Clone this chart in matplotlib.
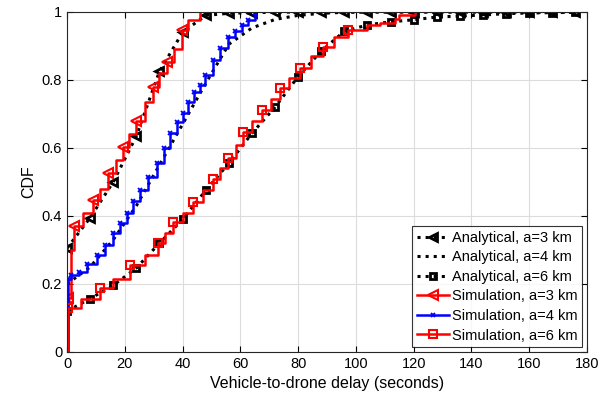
import matplotlib
matplotlib.use("Agg")
import matplotlib.pyplot as plt
import numpy as np

plt.rcParams['font.family'] = ['Liberation Sans', 'DejaVu Sans']

# Analytical CDFs, evaluated every 8 seconds
t_ana = [0, 8, 16, 24, 32, 40, 48, 56, 64, 72, 80, 88, 96, 104, 112, 120,
         128, 136, 144, 152, 160, 168, 176]
cdf_ana_3 = [0.305, 0.395, 0.50, 0.635, 0.825, 0.94, 0.99, 0.996, 0.998, 0.999, 1.0, 1.0,
             1.0, 1.0, 1.0, 1.0, 1.0, 1.0, 1.0, 1.0, 1.0, 1.0, 1.0]
cdf_ana_4 = [0.20, 0.25, 0.33, 0.43, 0.55, 0.67, 0.79, 0.905, 0.953, 0.978, 0.99, 0.996,
             0.999, 1.0, 1.0, 1.0, 1.0, 1.0, 1.0, 1.0, 1.0, 1.0, 1.0]
cdf_ana_6 = [0.12, 0.157, 0.196, 0.247, 0.32, 0.39, 0.475, 0.555, 0.643, 0.72, 0.81, 0.885,
             0.943, 0.962, 0.971, 0.977, 0.985, 0.988, 0.991, 0.995, 0.997, 0.998, 0.999]

# Empirical CDFs from simulation
t_sim_3 = [0.0, 0.3, 1.5, 2.5, 5.5, 9.0, 11.5, 14.3, 17.0, 19.4, 21.5, 24.0, 27.0, 29.9,
           32.0, 34.5, 37.0, 39.7, 42.0, 46.0]
cdf_sim_3 = [0.0, 0.16, 0.30, 0.37, 0.41, 0.447, 0.48, 0.526, 0.565, 0.603, 0.64, 0.68,
             0.735, 0.78, 0.82, 0.854, 0.89, 0.947, 0.975, 1.0]

t_sim_4 = [0.0, 0.5, 1.5, 4.0, 7.0, 10.3, 13.0, 16.0, 18.5, 20.7, 23.0, 25.3, 28.0, 31.0,
           33.5, 35.7, 38.0, 40.0, 42.0, 44.0, 46.0, 47.8, 50.6, 53.0, 55.7, 58.0, 60.5,
           62.5, 65.0]
cdf_sim_4 = [0.0, 0.215, 0.225, 0.235, 0.26, 0.285, 0.315, 0.35, 0.38, 0.41, 0.445, 0.476,
             0.515, 0.555, 0.60, 0.644, 0.675, 0.703, 0.735, 0.765, 0.785, 0.815, 0.859,
             0.895, 0.927, 0.945, 0.962, 0.975, 0.996]

t_sim_6 = [0.0, 0.5, 5.0, 11.4, 16.0, 21.8, 27.0, 31.5, 34.0, 36.7, 40.0, 43.6, 47.0, 50.6,
           53.0, 55.7, 58.5, 61.0, 64.0, 67.4, 70.5, 73.7, 77.0, 80.6, 84.5, 88.6, 92.5,
           97.3, 104.0, 108.5, 113.5, 115.0, 120.5]
cdf_sim_6 = [0.0, 0.13, 0.155, 0.188, 0.215, 0.256, 0.285, 0.32, 0.35, 0.383, 0.41, 0.44,
             0.475, 0.51, 0.54, 0.57, 0.61, 0.647, 0.68, 0.712, 0.745, 0.776, 0.805, 0.835,
             0.87, 0.898, 0.925, 0.947, 0.962, 0.967, 0.98, 0.99, 1.0]

fig = plt.figure(figsize=(6.11, 4.03), dpi=100)
ax = fig.add_axes([0.1097, 0.1266, 0.851, 0.8437])

ax.plot(t_ana, cdf_ana_3, 'k:', lw=2.2, marker='<', ms=6, mfc='none', mew=2,
        label='Analytical, a=3 km')
ax.plot(t_ana, cdf_ana_4, 'k:', lw=2.2, label='Analytical, a=4 km')
ax.plot(t_ana, cdf_ana_6, 'k:', lw=2.2, marker='s', ms=5, mfc='none', mew=2,
        label='Analytical, a=6 km')
ax.plot(t_sim_3, cdf_sim_3, color='r', lw=1.8, drawstyle='steps-post', marker='<', ms=6.5,
        mfc='none', mew=1.5, markevery=slice(1, -1, 2), label='Simulation, a=3 km')
ax.plot(t_sim_4, cdf_sim_4, color='b', lw=1.8, drawstyle='steps-post', marker='x', ms=3.5,
        mew=1.3, markevery=slice(1, None, 1), label='Simulation, a=4 km')
ax.plot(t_sim_6, cdf_sim_6, color='r', lw=1.8, drawstyle='steps-post', marker='s', ms=5.5,
        mfc='none', mew=1.5, markevery=slice(1, 28, 2), label='Simulation, a=6 km')

ax.set_xlim(0, 180)
ax.set_ylim(0, 1)
ax.set_xticks(np.arange(0, 181, 20))
ax.set_yticks([0, 0.2, 0.4, 0.6, 0.8, 1])
ax.set_yticklabels(['0', '0.2', '0.4', '0.6', '0.8', '1'])
ax.grid(True, color='#dcdcdc', lw=0.8)
ax.set_axisbelow(True)
ax.tick_params(direction='in', length=4, labelsize=10.5, top=True, right=True)
for s in ax.spines.values():
    s.set_linewidth(0.8)
    s.set_color('#262626')

ax.set_xlabel('Vehicle-to-drone delay (seconds)', fontsize=11.5)
ax.set_ylabel('CDF', fontsize=11.5)

leg = ax.legend(loc='lower right', bbox_to_anchor=(0.99, 0.015), fontsize=10.5,
                frameon=True, fancybox=False, edgecolor='k', handlelength=2.2,
                handletextpad=0.2, labelspacing=0.38, borderpad=0.3, borderaxespad=0)
leg.get_frame().set_linewidth(0.8)

fig.savefig('out.png', dpi=100)
